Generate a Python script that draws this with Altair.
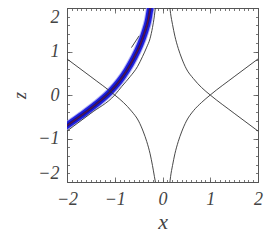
import altair as alt
import pandas as pd

# ---- data ----
# separatrix curves (x, z)
c1_x = [-2.05, -1.5, -1.0, -0.82, -0.65, -0.5, -0.4, -0.33, -0.26, -0.21, -0.17, -0.14]
c1_z = [0.87, 0.42, 0.0, -0.17, -0.37, -0.6, -0.85, -1.07, -1.35, -1.62, -1.87, -2.05]
c2_x = [-2.05, -1.5, -1.0, -0.85, -0.68, -0.52, -0.42, -0.33, -0.26, -0.21, -0.17, -0.145]
c2_z = [-0.87, -0.42, 0.0, 0.2, 0.42, 0.66, 0.88, 1.1, 1.3, 1.55, 1.82, 2.05]
c3_x = [2.05, 1.5, 1.0, 0.82, 0.65, 0.5, 0.4, 0.33, 0.26, 0.21, 0.17, 0.15]
c3_z = [0.87, 0.42, 0.0, -0.17, -0.36, -0.6, -0.85, -1.07, -1.35, -1.62, -1.87, -2.05]
c4_x = [2.05, 1.5, 1.0, 0.82, 0.645, 0.5, 0.4, 0.33, 0.26, 0.21, 0.17, 0.15]
c4_z = [-0.87, -0.42, 0.0, 0.17, 0.38, 0.6, 0.85, 1.07, 1.35, 1.62, 1.87, 2.05]
# short outline segment above the band
seg_x = [-0.65, -0.49]
seg_z = [1.09, 1.36]
# trajectory band centre line
band_x = [-2.05, -1.7, -1.4, -1.1, -0.9, -0.75, -0.6, -0.47, -0.37, -0.3, -0.25]
band_z = [-0.74, -0.47, -0.22, 0.07, 0.32, 0.56, 0.85, 1.15, 1.45, 1.72, 2.05]

major = [-2, -1, 0, 1, 2]
minor_x = [round(-2 + 0.1 * i, 1) for i in range(41)]
minor_z = [round(-2 + 0.2 * i, 1) for i in range(21)]

W, H = 191, 174
FONT = "Liberation Serif"
TXT = "#444444"
AX = "#555555"

xs = alt.Scale(domain=[-2, 2], nice=False, zero=False)
ys = alt.Scale(domain=[-2, 2], nice=False, zero=False)


def frame(xv, zv):
    return pd.DataFrame({"x": xv, "z": zv, "i": range(len(xv))})


def line(df, color, width, opacity=1.0):
    return alt.Chart(df).mark_line(
        color=color, strokeWidth=width, opacity=opacity, clip=True,
        strokeCap="butt", interpolate="monotone"
    ).encode(
        x=alt.X("x:Q", scale=xs, axis=None),
        y=alt.Y("z:Q", scale=ys, axis=None),
        order="i:Q",
    )


band = frame(band_x, band_z)

layers = [
    line(band, "#a0a0f0", 8.5, 0.8),
    line(band, "#1f1fe0", 6.5),
    line(band, "#151585", 2.8),
    line(band, "#7a1030", 0.9),
]
for cx, cz in [(c1_x, c1_z), (c2_x, c2_z), (c3_x, c3_z), (c4_x, c4_z), (seg_x, seg_z)]:
    layers.append(line(frame(cx, cz), "#333333", 0.9))


def axis_layer(xaxis, yaxis):
    return alt.Chart(band).mark_point(opacity=0).encode(
        x=alt.X("x:Q", scale=xs, axis=xaxis),
        y=alt.Y("z:Q", scale=ys, axis=yaxis),
    )


common = dict(grid=False, labels=False, title=None, tickColor=AX, tickWidth=0.8,
              domainColor=AX, domainWidth=1)

# labels + bottom/left frame
layers.append(axis_layer(
    alt.Axis(orient="bottom", values=major, ticks=False, grid=False, domainColor=AX,
             domainWidth=1, labelFont=FONT, labelFontStyle="italic", labelFontSize=18,
             labelColor=TXT, labelPadding=8, title="x", titleFont=FONT,
             titleFontStyle="italic", titleFontWeight="normal", titleFontSize=22,
             titleColor=TXT, titlePadding=3, labelFlush=False),
    alt.Axis(orient="left", values=major, ticks=False, grid=False, domainColor=AX,
             domainWidth=1, labelFont=FONT, labelFontStyle="italic", labelFontSize=18,
             labelColor=TXT, labelPadding=8, title="z", titleFont=FONT,
             titleFontStyle="italic", titleFontWeight="normal", titleFontSize=18,
             titleColor=TXT, titlePadding=8, labelFlush=True),
))
# inward major ticks bottom/left
layers.append(axis_layer(
    alt.Axis(orient="top", offset=-H, values=major, tickSize=5, domain=False, **common),
    alt.Axis(orient="right", offset=-W, values=major, tickSize=5, domain=False, **common),
))
# inward major ticks top/right + frame
layers.append(axis_layer(
    alt.Axis(orient="bottom", offset=-H, values=major, tickSize=5, domain=True, **common),
    alt.Axis(orient="left", offset=-W, values=major, tickSize=5, domain=True, **common),
))
# minor ticks bottom/left
layers.append(axis_layer(
    alt.Axis(orient="top", offset=-H, values=minor_x, tickSize=2.5, domain=False, **common),
    alt.Axis(orient="right", offset=-W, values=minor_z, tickSize=2.5, domain=False, **common),
))
# minor ticks top/right
layers.append(axis_layer(
    alt.Axis(orient="bottom", offset=-H, values=minor_x, tickSize=2.5, domain=False, **common),
    alt.Axis(orient="left", offset=-W, values=minor_z, tickSize=2.5, domain=False, **common),
))

chart = alt.layer(*layers).resolve_axis(x="independent", y="independent").properties(
    width=W, height=H,
    autosize=alt.AutoSizeParams(type="none"),
    padding={"left": 59, "top": 0, "right": 10, "bottom": 50},
).configure_view(stroke=None).configure(background="white")

chart.save("out.html", embed_options={"renderer": "svg", "actions": False})
